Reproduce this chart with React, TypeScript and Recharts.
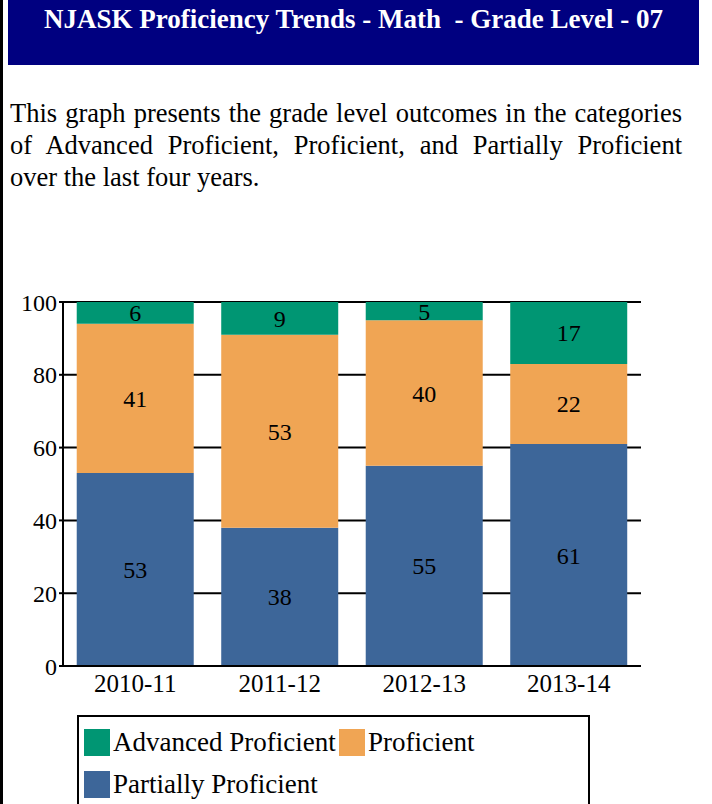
import React from 'react'
import {
  BarChart,
  Bar,
  XAxis,
  YAxis,
  CartesianGrid,
  LabelList,
} from 'recharts'

const years = ['2010-11', '2011-12', '2012-13', '2013-14']
const partiallyProficient = [53, 38, 55, 61]
const proficient = [41, 53, 40, 22]
const advancedProficient = [6, 9, 5, 17]
const yTicks = [0, 20, 40, 60, 80, 100]

const SERIF = '"Liberation Serif", "Times New Roman", serif'

const COLORS = {
  advanced: '#009673',
  proficient: '#F0A554',
  partially: '#3D6699',
  navy: '#000080',
}

const legendItems = [
  { name: 'Advanced Proficient', color: COLORS.advanced },
  { name: 'Proficient', color: COLORS.proficient },
  { name: 'Partially Proficient', color: COLORS.partially },
]

const chartData = years.map((year, i) => ({
  name: year,
  partially: partiallyProficient[i],
  proficient: proficient[i],
  advanced: advancedProficient[i],
}))

const labelStyle = { fill: '#000', fontSize: 24, fontFamily: SERIF }

export default function App() {
  return (
    <div
      style={{
        position: 'absolute',
        left: 0,
        top: 0,
        width: 712,
        height: 804,
        overflow: 'hidden',
        background: '#fff',
        fontFamily: SERIF,
      }}
    >
      {/* page border on the left */}
      <div style={{ position: 'absolute', left: 0, top: 0, width: 3, height: 804, background: '#000' }} />

      {/* title bar */}
      <div
        style={{
          position: 'absolute',
          left: 8,
          top: 0,
          width: 691,
          height: 65,
          background: COLORS.navy,
          color: '#fff',
          fontWeight: 'bold',
          fontSize: 27,
          textAlign: 'center',
          lineHeight: '38px',
          whiteSpace: 'nowrap',
        }}
      >
        NJASK Proficiency Trends - Math&nbsp; - Grade Level - 07
      </div>

      {/* description */}
      <div
        style={{
          position: 'absolute',
          left: 10,
          top: 97,
          width: 672,
          fontSize: 26.5,
          lineHeight: '32px',
          color: '#000',
        }}
      >
        <div style={{ textAlign: 'justify', textAlignLast: 'justify', whiteSpace: 'nowrap' }}>
          This graph presents the grade level outcomes in the categories
        </div>
        <div style={{ textAlign: 'justify', textAlignLast: 'justify' }}>
          of Advanced Proficient, Proficient, and Partially Proficient
        </div>
        <div>over the last four years.</div>
      </div>

      {/* chart */}
      <div style={{ position: 'absolute', left: 0, top: 280 }}>
        <BarChart
          width={712}
          height={440}
          data={chartData}
          margin={{ top: 22, right: 71, left: 0, bottom: 14 }}
          barCategoryGap="9.5%"
        >
          <CartesianGrid vertical={false} stroke="#000" strokeWidth={2} />
          <XAxis
            dataKey="name"
            height={40}
            tickLine={false}
            axisLine={{ stroke: '#000', strokeWidth: 2 }}
            tick={{ fill: '#000', fontSize: 25, fontFamily: SERIF }}
          />
          <YAxis
            width={63}
            domain={[0, 100]}
            ticks={yTicks}
            tickSize={4}
            tickLine={{ stroke: '#000', strokeWidth: 2 }}
            axisLine={{ stroke: '#000', strokeWidth: 2 }}
            tick={{ fill: '#000', fontSize: 24, fontFamily: SERIF }}
          />
          <YAxis
            yAxisId="right"
            orientation="right"
            width={0}
            domain={[0, 100]}
            tick={false}
            tickLine={false}
            axisLine={{ stroke: '#000', strokeWidth: 2 }}
          />
          <Bar dataKey="partially" stackId="a" fill={COLORS.partially} isAnimationActive={false}>
            <LabelList dataKey="partially" position="center" style={labelStyle} />
          </Bar>
          <Bar dataKey="proficient" stackId="a" fill={COLORS.proficient} isAnimationActive={false}>
            <LabelList dataKey="proficient" position="center" style={labelStyle} />
          </Bar>
          <Bar dataKey="advanced" stackId="a" fill={COLORS.advanced} isAnimationActive={false}>
            <LabelList dataKey="advanced" position="center" style={labelStyle} />
          </Bar>
        </BarChart>
      </div>

      {/* legend */}
      <div
        style={{
          position: 'absolute',
          left: 77,
          top: 715,
          width: 513,
          height: 120,
          border: '2px solid #000',
          boxSizing: 'border-box',
        }}
      >
        {legendItems.map((item, i) => (
          <div
            key={item.name}
            style={{
              position: 'absolute',
              left: i === 1 ? 260 : 5,
              top: i === 2 ? 54 : 12,
              display: 'flex',
              alignItems: 'center',
              fontSize: 27,
              lineHeight: '27px',
              whiteSpace: 'nowrap',
            }}
          >
            <span style={{ display: 'inline-block', width: 26, height: 27, background: item.color, marginRight: 3 }} />
            <span>{item.name}</span>
          </div>
        ))}
      </div>
    </div>
  )
}
